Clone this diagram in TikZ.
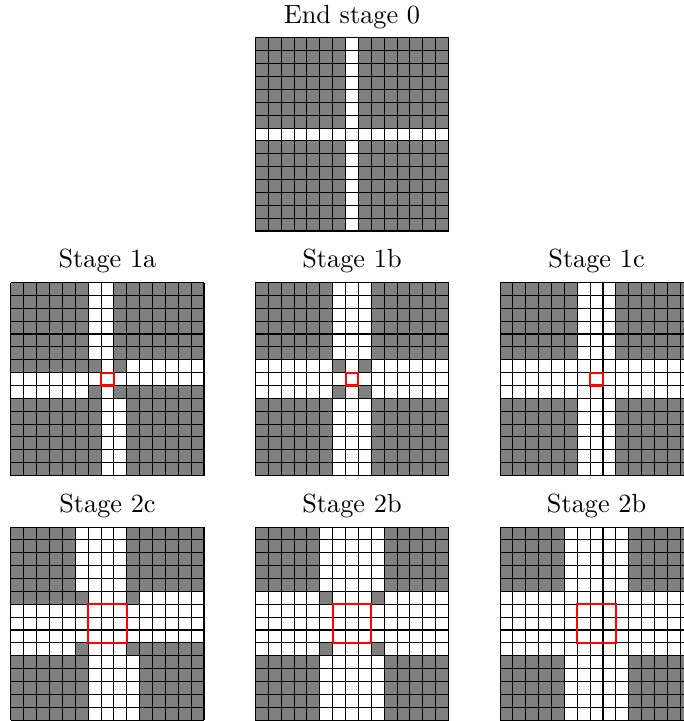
\documentclass[tikz,border=0pt]{standalone}
\begin{document}
\begin{tikzpicture}[x=4.9pt,y=-4.9pt,
  cellgray/.style={fill=gray},
  cellwhite/.style={fill=white},
  gridline/.style={draw=black,line width=0.4pt},
  redbox/.style={draw=red,line width=0.8pt},
  stagelabel/.style={above,font=\normalsize}]
\useasboundingbox (0,0) rectangle (53.07,56.02);
\newcommand{\gridlines}{\foreach \i in {0,...,15}{\draw[gridline] (\i,0) -- (\i,15); \draw[gridline] (0,\i) -- (15,\i);}}
% End stage 0
\begin{scope}[shift={(19.85,2.95)}]
  \fill[cellgray] (0,0) rectangle (15,15);
  \fill[cellwhite] (7,0) rectangle (8,15);
  \fill[cellwhite] (0,7) rectangle (15,8);
  \gridlines
  \node[stagelabel] (lab0) at (7.5,0) {End stage 0};
\end{scope}
% Stage 1a
\begin{scope}[shift={(0.85,21.95)}]
  \fill[cellgray] (0,0) rectangle (15,15);
  \fill[cellwhite] (7,0) rectangle (8,15);
  \fill[cellwhite] (0,7) rectangle (15,8);
  \fill[cellwhite] (6,0) rectangle (7,6);
  \fill[cellwhite] (9,6) rectangle (15,7);
  \fill[cellwhite] (8,9) rectangle (9,15);
  \fill[cellwhite] (0,8) rectangle (6,9);
  \gridlines
  \draw[redbox] (7,7) rectangle (8,8);
  \node[stagelabel] (lab1a) at (7.5,0) {Stage 1a};
\end{scope}
% Stage 1b
\begin{scope}[shift={(19.85,21.95)}]
  \fill[cellgray] (0,0) rectangle (15,15);
  \fill[cellwhite] (6,0) rectangle (9,15);
  \fill[cellwhite] (0,6) rectangle (15,9);
  \fill[cellgray] (6,6) rectangle (7,7);
  \fill[cellgray] (8,6) rectangle (9,7);
  \fill[cellgray] (6,8) rectangle (7,9);
  \fill[cellgray] (8,8) rectangle (9,9);
  \gridlines
  \draw[redbox] (7,7) rectangle (8,8);
  \node[stagelabel] (lab1b) at (7.5,0) {Stage 1b};
\end{scope}
% Stage 1c
\begin{scope}[shift={(38.85,21.95)}]
  \fill[cellgray] (0,0) rectangle (15,15);
  \fill[cellwhite] (6,0) rectangle (9,15);
  \fill[cellwhite] (0,6) rectangle (15,9);
  \gridlines
  \draw[redbox] (7,7) rectangle (8,8);
  \node[stagelabel] (lab1c) at (7.5,0) {Stage 1c};
\end{scope}
% Stage 2c
\begin{scope}[shift={(0.85,40.95)}]
  \fill[cellgray] (0,0) rectangle (15,15);
  \fill[cellwhite] (6,0) rectangle (9,15);
  \fill[cellwhite] (0,6) rectangle (15,9);
  \fill[cellwhite] (5,0) rectangle (6,5);
  \fill[cellwhite] (10,5) rectangle (15,6);
  \fill[cellwhite] (9,10) rectangle (10,15);
  \fill[cellwhite] (0,9) rectangle (5,10);
  \gridlines
  \draw[redbox] (6,6) rectangle (9,9);
  \node[stagelabel] (lab2c) at (7.5,0) {Stage 2c};
\end{scope}
% Stage 2b (middle)
\begin{scope}[shift={(19.85,40.95)}]
  \fill[cellgray] (0,0) rectangle (15,15);
  \fill[cellwhite] (5,0) rectangle (10,15);
  \fill[cellwhite] (0,5) rectangle (15,10);
  \fill[cellgray] (5,5) rectangle (6,6);
  \fill[cellgray] (9,5) rectangle (10,6);
  \fill[cellgray] (5,9) rectangle (6,10);
  \fill[cellgray] (9,9) rectangle (10,10);
  \gridlines
  \draw[redbox] (6,6) rectangle (9,9);
  \node[stagelabel] (lab2b) at (7.5,0) {Stage 2b};
\end{scope}
% Stage 2b (right)
\begin{scope}[shift={(38.85,40.95)}]
  \fill[cellgray] (0,0) rectangle (15,15);
  \fill[cellwhite] (5,0) rectangle (10,15);
  \fill[cellwhite] (0,5) rectangle (15,10);
  \gridlines
  \draw[redbox] (6,6) rectangle (9,9);
  \node[stagelabel] (lab2bb) at (7.5,0) {Stage 2b};
\end{scope}
\end{tikzpicture}
\end{document}
